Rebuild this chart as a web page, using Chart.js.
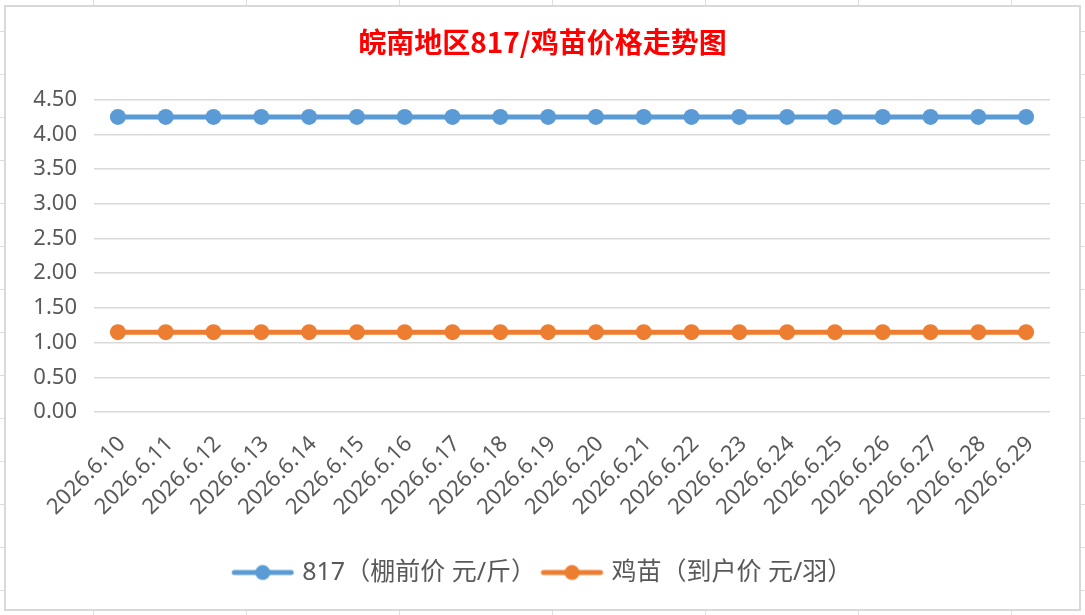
<!DOCTYPE html>
<html lang="zh">
<head>
    <meta charset="UTF-8">
    <title>皖南地区817/鸡苗价格走势图</title>
    <script src="https://cdn.jsdelivr.net/npm/chart.js"></script>
    <style>
    html, body {
        margin: 0;
        width: 1085px;
        height: 615px;
        overflow: hidden;
    }
    body {
        /* 表格底纹 */
        background-color: #ffffff;
        background-image:
            linear-gradient(to right, #dedede 1px, transparent 1px),
            linear-gradient(to bottom, #dedede 1px, transparent 1px);
        background-size: 153px 43px, 153px 43px;
        background-position: 93px 0, 0 31px;
    }
    .box {
        position: absolute;
        left: 4px;
        top: 5px;
        width: 1073px;
        height: 602px;
        border: 2px solid #d9d9d9;
        background: #ffffff;
    }
    canvas {
        display: block;
    }
</style>
</head>
<body>
    <div class="box">
        <canvas id="priceChart" width="1073" height="602"></canvas>
    </div>

    <script>
        // 日期
        const dates = ['2026.6.10', '2026.6.11', '2026.6.12', '2026.6.13', '2026.6.14',
                       '2026.6.15', '2026.6.16', '2026.6.17', '2026.6.18', '2026.6.19',
                       '2026.6.20', '2026.6.21', '2026.6.22', '2026.6.23', '2026.6.24',
                       '2026.6.25', '2026.6.26', '2026.6.27', '2026.6.28', '2026.6.29'];
        // 817 棚前价 元/斤
        const price817 = [4.25, 4.25, 4.25, 4.25, 4.25, 4.25, 4.25, 4.25, 4.25, 4.25,
                          4.25, 4.25, 4.25, 4.25, 4.25, 4.25, 4.25, 4.25, 4.25, 4.25];
        // 鸡苗 到户价 元/羽
        const chickPrice = [1.15, 1.15, 1.15, 1.15, 1.15, 1.15, 1.15, 1.15, 1.15, 1.15,
                            1.15, 1.15, 1.15, 1.15, 1.15, 1.15, 1.15, 1.15, 1.15, 1.15];
        const yTicks = [0, 0.5, 1, 1.5, 2, 2.5, 3, 3.5, 4, 4.5];

        const BLUE = '#5b9bd5';
        const ORANGE = '#ed7d31';
        const TEXT = '#595959';
        const latin = '"Noto Sans", "Noto Sans CJK SC", sans-serif';

        // 图例图标：线 + 圆点
        function legendIcon(color) {
            const c = document.createElement('canvas');
            c.width = 70;
            c.height = 18;
            const g = c.getContext('2d');
            g.strokeStyle = color;
            g.lineWidth = 5;
            g.lineCap = 'round';
            g.beginPath();
            g.moveTo(8, 9);
            g.lineTo(65, 9);
            g.stroke();
            g.fillStyle = color;
            g.beginPath();
            g.arc(36.5, 9, 7.5, 0, Math.PI * 2);
            g.fill();
            return c;
        }
        const icons = [legendIcon(BLUE), legendIcon(ORANGE)];

        const ctx = document.getElementById('priceChart').getContext('2d');
        new Chart(ctx, {
            type: 'line',
            data: {
                labels: dates,
                datasets: [{
                    label: '817（棚前价 元/斤）',
                    data: price817,
                    borderColor: BLUE,
                    backgroundColor: BLUE,
                    borderWidth: 5,
                    pointRadius: 8,
                    pointBorderWidth: 0,
                    pointBackgroundColor: BLUE
                }, {
                    label: '鸡苗（到户价 元/羽）',
                    data: chickPrice,
                    borderColor: ORANGE,
                    backgroundColor: ORANGE,
                    borderWidth: 5,
                    pointRadius: 8,
                    pointBorderWidth: 0,
                    pointBackgroundColor: ORANGE
                }]
            },
            options: {
                responsive: false,
                animation: false,
                layout: {
                    padding: { left: 0, right: 0, top: 0, bottom: 14 }
                },
                scales: {
                    x: {
                        offset: true,
                        grid: { display: false, drawTicks: false },
                        border: { display: false },
                        ticks: {
                            color: TEXT,
                            font: { family: latin, size: 22 },
                            minRotation: 45,
                            maxRotation: 45,
                            autoSkip: false,
                            padding: 19,
                            labelOffset: 4
                        },
                        afterFit: function(scale) { scale.height = 142; }
                    },
                    y: {
                        min: 0,
                        max: 4.5,
                        afterBuildTicks: function(scale) {
                            scale.ticks = yTicks.map(v => ({ value: v }));
                        },
                        grid: { color: '#d9d9d9', lineWidth: 1.5, drawTicks: false },
                        border: { display: false },
                        ticks: {
                            color: TEXT,
                            font: { family: latin, size: 22 },
                            padding: 17,
                            callback: v => v.toFixed(2)
                        },
                        afterFit: function(scale) { scale.width = 88; }
                    },
                    // 右侧留白
                    yRight: {
                        position: 'right',
                        grid: { display: false, drawTicks: false },
                        border: { display: false },
                        ticks: { display: false },
                        afterFit: function(scale) { scale.width = 29; }
                    }
                },
                plugins: {
                    title: {
                        display: true,
                        text: '皖南地区817/鸡苗价格走势图',
                        color: '#ff0000',
                        font: { family: '"Noto Sans CJK SC", sans-serif', size: 28, weight: 'bold' },
                        padding: { top: 19, bottom: 40 }
                    },
                    legend: {
                        position: 'bottom',
                        labels: {
                            color: TEXT,
                            font: { family: latin, size: 25 },
                            usePointStyle: true,
                            pointStyleWidth: 57,
                            padding: 6,
                            generateLabels: function(chart) {
                                return chart.data.datasets.map((ds, i) => ({
                                    text: ds.label,
                                    fillStyle: ds.borderColor,
                                    strokeStyle: ds.borderColor,
                                    fontColor: TEXT,
                                    pointStyle: icons[i],
                                    datasetIndex: i,
                                    hidden: false
                                }));
                            }
                        }
                    },
                    tooltip: { enabled: false }
                }
            }
        });
    </script>
</body>
</html>
